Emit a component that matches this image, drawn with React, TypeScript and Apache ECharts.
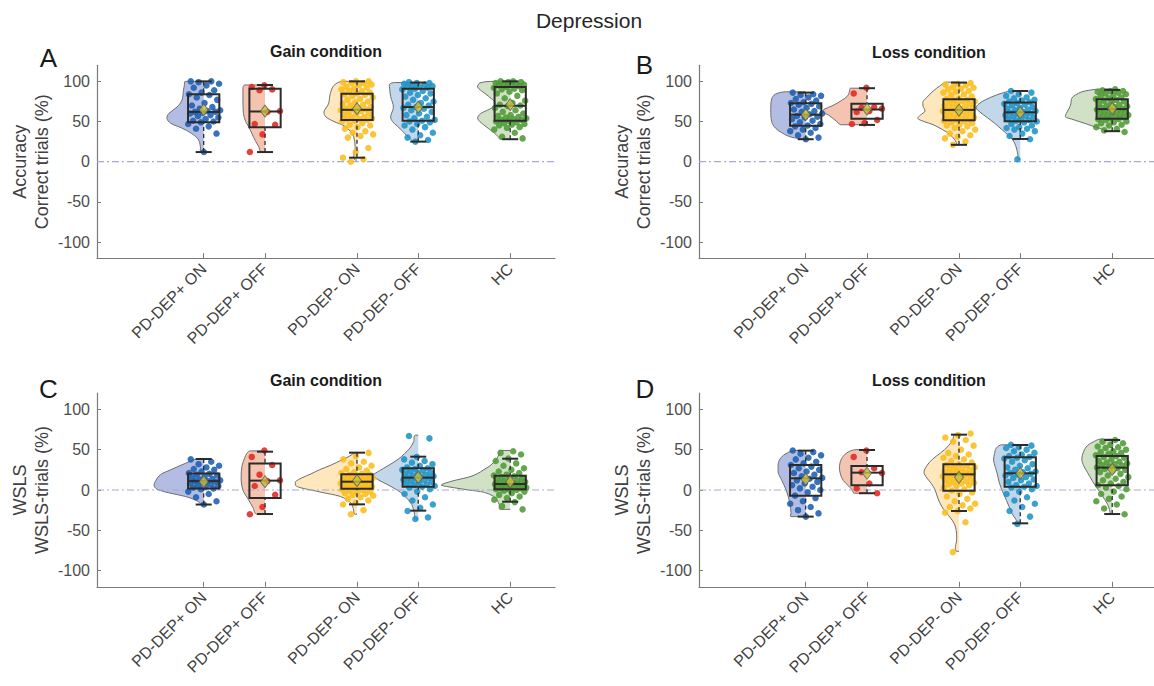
import React, { useEffect, useRef } from 'react';
import * as echarts from 'echarts';

const FONT = '"Liberation Sans", Arial, Helvetica, sans-serif';

const GROUPS = ['PD-DEP+ ON', 'PD-DEP+ OFF', 'PD-DEP- ON', 'PD-DEP- OFF', 'HC'];
const POSITIONS = [1, 1.667, 2.667, 3.333, 4.333];
const X_MIN = -0.16;
const X_MAX = 4.82;
const Y_MIN = -120;
const Y_MAX = 120;
const Y_TICKS = [-100, -50, 0, 50, 100];

const DOT_COLORS = ['#1d5fb0', '#e3261f', '#fbbd1c', '#1f93c6', '#4f9a36'];
const VIOLIN_COLORS = ['#b3bce2', '#f5c4b1', '#fee7bd', '#c2d7e9', '#d0e1c5'];

// ---------- Panel A: Accuracy, gain ----------
const A_DEPP_ON = [100, 100, 99, 97, 95, 92, 89, 86, 84, 83, 80, 77, 73, 70, 68, 66, 64, 63, 62, 62, 61, 60, 58, 57, 55, 53, 51, 50, 49, 47, 44, 41, 35, 12];
const A_DEPP_OFF = [95, 93, 90, 89, 63, 62, 47, 46, 34, 12];
const A_DEPM_ON = [100, 100, 99, 98, 98, 96, 95, 93, 92, 91, 90, 88, 88, 86, 85, 84, 83, 82, 80, 78, 77, 75, 74, 72, 71, 70, 68, 67, 66, 65, 65, 64, 63, 61, 60, 59, 58, 56, 55, 54, 53, 53, 52, 51, 50, 48, 46, 45, 43, 41, 38, 36, 34, 32, 30, 17, 12, 5, 3, 0];
const A_DEPM_OFF = [99, 98, 98, 97, 96, 95, 94, 93, 93, 92, 91, 90, 88, 86, 85, 83, 81, 79, 77, 75, 73, 71, 70, 68, 67, 66, 64, 62, 60, 58, 56, 54, 52, 51, 50, 49, 47, 45, 43, 40, 36, 33, 30, 27, 25];
const A_HC = [100, 100, 99, 99, 98, 97, 97, 96, 95, 95, 94, 93, 92, 91, 90, 89, 87, 85, 82, 79, 76, 73, 71, 70, 69, 67, 64, 62, 60, 58, 57, 56, 55, 54, 53, 52, 52, 51, 50, 49, 48, 47, 46, 45, 43, 42, 40, 36, 31, 29];
// [lower whisker, Q1, median, Q3, upper whisker, mean]
const A_BOX = [
  [12, 49, 62, 84, 100, 64.6],
  [12, 43, 62.5, 90.8, 95.5, 63],
  [5, 52, 64.6, 84.6, 100, 66],
  [25, 51, 68, 90.8, 98.5, 68],
  [28, 51, 69.6, 93, 100, 71],
];
// violin outline: [value, half-width in x units]
const A_VIOLIN = [
  [[100, 0.2], [95, 0.21], [89, 0.22], [77, 0.235], [68, 0.29], [60, 0.38], [54, 0.4], [48, 0.36], [42, 0.24], [35, 0.13], [27, 0.055], [19, 0.036], [12, 0.025]],
  [[95.5, 0.22], [92, 0.24], [77, 0.24], [60, 0.235], [50, 0.21], [44, 0.18], [37, 0.15], [31, 0.127], [25, 0.1], [19, 0.07], [12, 0.036]],
  [[100, 0.16], [95, 0.25], [85, 0.29], [72, 0.31], [62, 0.36], [56, 0.34], [50, 0.25], [44, 0.13], [37, 0.065], [31, 0.035], [19, 0.02], [2, 0.015]],
  [[98.5, 0.26], [96, 0.315], [90, 0.31], [81, 0.3], [68, 0.27], [56, 0.3], [50, 0.28], [44, 0.225], [38, 0.17], [33, 0.13], [29, 0.09], [25, 0.05]],
  [[100, 0.17], [98, 0.33], [93, 0.355], [85, 0.275], [78, 0.2], [73, 0.165], [67, 0.2], [60, 0.32], [54, 0.355], [46, 0.29], [37, 0.185], [31, 0.13], [28, 0.11]],
];

// ---------- Panel B: Accuracy, loss ----------
const B_DEPP_ON = [86, 84, 83, 82, 80, 78, 76, 74, 73, 72, 71, 69, 67, 65, 63, 62, 60, 59, 57, 56, 55, 53, 51, 49, 47, 45, 44, 42, 40, 38, 36, 33, 30, 28];
const B_DEPP_OFF = [92, 85, 68, 67, 66, 63, 62, 52, 48, 47];
const B_DEPM_ON = [98, 97, 96, 95, 93, 92, 91, 90, 88, 87, 86, 84, 83, 81, 79, 78, 77, 76, 75, 75, 73, 72, 71, 70, 69, 68, 67, 66, 65, 64, 64, 63, 62, 61, 60, 59, 58, 57, 56, 55, 54, 53, 52, 52, 51, 50, 49, 48, 46, 45, 44, 42, 40, 38, 35, 33, 31, 29, 25, 21];
const B_DEPM_OFF = [88, 86, 84, 82, 80, 79, 77, 76, 75, 74, 73, 72, 71, 70, 68, 67, 66, 65, 64, 63, 62, 61, 60, 59, 58, 57, 56, 55, 54, 53, 52, 51, 50, 49, 47, 45, 43, 42, 41, 40, 38, 35, 32, 28, 3];
const B_HC = [90, 89, 88, 88, 87, 86, 85, 84, 83, 82, 80, 79, 78, 77, 76, 75, 74, 72, 71, 70, 69, 68, 67, 66, 66, 65, 64, 63, 62, 61, 60, 59, 58, 58, 57, 56, 55, 54, 53, 53, 52, 50, 49, 48, 46, 45, 43, 41, 39, 37];
const B_BOX = [
  [28, 44.6, 58.5, 72.8, 86, 58.5],
  [45.8, 53.5, 65, 72, 91.5, 65.4],
  [21, 51.5, 64.5, 77.8, 98.5, 64.2],
  [28.3, 50.3, 61.5, 73.6, 88, 61],
  [38, 53.5, 65.5, 77.8, 89.4, 66.3],
];
const B_VIOLIN = [
  [[87, 0.22], [84, 0.33], [78, 0.37], [65, 0.38], [50, 0.37], [42, 0.33], [36, 0.26], [31, 0.17], [29, 0.08], [28, 0.02]],
  [[91.5, 0.18], [88, 0.19], [82, 0.21], [76, 0.28], [70, 0.37], [65, 0.47], [62, 0.48], [58, 0.42], [53, 0.36], [48, 0.31], [46, 0.29]],
  [[99, 0.14], [95, 0.2], [88, 0.28], [80, 0.35], [75, 0.39], [69, 0.39], [63, 0.37], [58, 0.42], [54, 0.45], [50, 0.38], [46, 0.28], [40, 0.18], [34, 0.1], [28, 0.05], [24, 0.03], [21, 0.02]],
  [[88, 0.1], [86, 0.18], [83, 0.26], [77, 0.38], [72, 0.45], [67, 0.48], [62, 0.44], [55, 0.36], [48, 0.28], [40, 0.2], [33, 0.13], [27, 0.08], [20, 0.05], [14, 0.035], [8, 0.025], [3, 0.02]],
  [[90.5, 0.12], [89, 0.25], [87, 0.33], [83, 0.4], [79, 0.44], [72, 0.45], [66, 0.47], [60, 0.5], [56, 0.51], [53, 0.44], [50, 0.36], [47, 0.28], [43, 0.18], [40, 0.1], [37.5, 0.03]],
];

// ---------- Panel C: WSLS, gain ----------
const C_DEPP_ON = [38, 35, 32, 30, 28, 26, 25, 23, 21, 20, 19, 18, 16, 15, 14, 13, 12, 11, 11, 10, 9, 8, 7, 6, 5, 4, 3, 2, 1, -2, -5, -9, -14, -18];
const C_DEPP_OFF = [49, 41, 31, 19, 12, 11, 5, -6, -21, -30];
const C_DEPM_ON = [46, 42, 38, 35, 33, 30, 28, 26, 24, 22, 21, 20, 19, 19, 18, 17, 16, 16, 15, 14, 14, 13, 13, 12, 12, 11, 11, 10, 10, 9, 9, 8, 8, 7, 7, 6, 5, 5, 4, 4, 3, 3, 2, 2, 1, 0, -1, -2, -3, -4, -5, -6, -7, -9, -11, -13, -16, -18, -25, -30];
const C_DEPM_OFF = [67, 64, 41, 38, 36, 34, 32, 30, 28, 27, 26, 25, 24, 23, 22, 21, 20, 19, 18, 17, 16, 15, 15, 14, 13, 12, 11, 10, 9, 8, 7, 6, 5, 4, 3, 1, -2, -5, -9, -13, -18, -22, -26, -34, -36];
const C_HC = [48, 46, 44, 39, 36, 33, 30, 27, 25, 23, 21, 19, 18, 17, 16, 15, 14, 13, 12, 11, 10, 9, 9, 8, 8, 7, 7, 6, 6, 5, 5, 4, 4, 3, 3, 2, 2, 1, 1, 0, -1, -2, -4, -6, -8, -10, -12, -15, -20, -24];
const C_BOX = [
  [-18, 2, 11, 20.5, 38.4, 10.3],
  [-29.8, -9.9, 11.6, 33, 47.5, 10.3],
  [-17.8, 1.7, 10.3, 19.4, 46.3, 11.6],
  [-25.6, 4.1, 15.3, 26.9, 41.3, 15.7],
  [-14.5, 0.8, 7.4, 17.8, 38.8, 10.3],
];
const C_VIOLIN = [
  [[38.4, 0.07], [33, 0.2], [25, 0.36], [19, 0.47], [12, 0.52], [6, 0.54], [2, 0.52], [0, 0.49], [-4, 0.36], [-8, 0.2], [-12, 0.1], [-15, 0.05], [-18, 0.02]],
  [[48.5, 0.16], [45, 0.2], [40, 0.22], [30, 0.25], [15, 0.26], [0, 0.24], [-12, 0.18], [-22, 0.13], [-30, 0.09]],
  [[46, 0.02], [42, 0.08], [37, 0.17], [31, 0.28], [25, 0.41], [20, 0.5], [15, 0.6], [10, 0.67], [6, 0.67], [3, 0.62], [0, 0.5], [-3, 0.38], [-8, 0.18], [-13, 0.1], [-17, 0.06], [-23, 0.04], [-30, 0.02]],
  [[68, 0.03], [60, 0.05], [52, 0.09], [45, 0.15], [38, 0.22], [30, 0.33], [24, 0.42], [18, 0.49], [13, 0.44], [7, 0.34], [0, 0.23], [-6, 0.16], [-12, 0.11], [-18, 0.07], [-25, 0.05], [-30, 0.04], [-36, 0.03]],
  [[49, 0.11], [45, 0.12], [38, 0.15], [30, 0.22], [25, 0.29], [20, 0.36], [16, 0.45], [12, 0.6], [8, 0.72], [6, 0.75], [3, 0.62], [0, 0.45], [-3, 0.28], [-8, 0.18], [-13, 0.14], [-18, 0.12], [-24, 0.11]],
];

// ---------- Panel D: WSLS, loss ----------
const D_DEPP_ON = [49, 47, 45, 43, 40, 38, 35, 33, 31, 29, 27, 25, 23, 21, 19, 17, 15, 14, 12, 10, 8, 6, 4, 2, 0, -3, -7, -10, -14, -17, -21, -25, -29, -33];
const D_DEPP_OFF = [49, 41, 27, 22, 21, 8, 2, -4];
const D_DEPM_ON = [70, 68, 65, 62, 60, 55, 50, 46, 44, 42, 40, 38, 36, 34, 32, 31, 30, 29, 28, 27, 26, 25, 24, 23, 22, 21, 20, 20, 19, 19, 18, 17, 16, 15, 14, 13, 12, 11, 10, 9, 8, 7, 6, 5, 3, 1, -1, -3, -5, -8, -11, -14, -17, -19, -21, -23, -26, -28, -40, -77];
const D_DEPM_OFF = [56, 55, 53, 52, 50, 48, 46, 44, 42, 41, 40, 39, 37, 35, 32, 30, 28, 27, 25, 23, 22, 21, 20, 19, 18, 16, 15, 13, 12, 10, 8, 6, 5, 4, 3, 1, -2, -5, -9, -13, -17, -21, -26, -33, -42];
const D_HC = [62, 60, 58, 56, 54, 53, 52, 50, 48, 47, 46, 45, 43, 42, 41, 40, 38, 36, 35, 34, 33, 32, 31, 30, 29, 28, 27, 26, 25, 24, 22, 20, 18, 16, 14, 12, 10, 8, 6, 5, 3, 1, -2, -5, -8, -11, -14, -18, -23, -30];
const D_BOX = [
  [-33, -7, 14.5, 31, 48.8, 13.2],
  [-4, 5.8, 21.5, 29.8, 49.6, 20.7],
  [-26, -0.8, 19.4, 31.8, 68.6, 15.7],
  [-41.3, 4.1, 20.7, 40.5, 55.8, 20.7],
  [-29.8, 5.8, 27.7, 42.1, 62, 25.6],
];
const D_VIOLIN = [
  [[49, 0.12], [46, 0.2], [40, 0.27], [32, 0.3], [22, 0.3], [12, 0.26], [2, 0.22], [-8, 0.19], [-18, 0.17], [-28, 0.16], [-33, 0.16]],
  [[50, 0.12], [46, 0.22], [38, 0.28], [28, 0.3], [20, 0.29], [12, 0.26], [5, 0.2], [0, 0.16], [-4, 0.14]],
  [[69, 0.04], [62, 0.07], [54, 0.12], [46, 0.2], [38, 0.29], [30, 0.35], [22, 0.38], [15, 0.35], [8, 0.3], [0, 0.26], [-10, 0.23], [-20, 0.19], [-28, 0.14], [-35, 0.09], [-42, 0.05], [-50, 0.03], [-60, 0.025], [-76, 0.02]],
  [[56, 0.2], [52, 0.26], [45, 0.28], [37, 0.29], [28, 0.27], [20, 0.25], [10, 0.23], [3, 0.21], [-5, 0.18], [-13, 0.15], [-21, 0.12], [-29, 0.09], [-36, 0.05], [-41, 0.02]],
  [[63, 0.13], [60, 0.2], [55, 0.27], [48, 0.31], [38, 0.33], [30, 0.31], [22, 0.27], [12, 0.22], [3, 0.17], [-5, 0.12], [-12, 0.08], [-18, 0.05], [-24, 0.03], [-30, 0.01]],
];

const PANELS = [
  { letter: 'A', title: 'Gain condition', yName: 'Accuracy\nCorrect trials (%)', grid: { left: 97, top: 65.3, width: 458, height: 192.8 }, letterPos: [48.5, 57.5], titlePos: [326, 51.5], points: [A_DEPP_ON, A_DEPP_OFF, A_DEPM_ON, A_DEPM_OFF, A_HC], box: A_BOX, violin: A_VIOLIN },
  { letter: 'B', title: 'Loss condition', yName: 'Accuracy\nCorrect trials (%)', grid: { left: 699, top: 65.3, width: 458, height: 192.8 }, letterPos: [644.5, 64.5], titlePos: [929, 52], points: [B_DEPP_ON, B_DEPP_OFF, B_DEPM_ON, B_DEPM_OFF, B_HC], box: B_BOX, violin: B_VIOLIN },
  { letter: 'C', title: 'Gain condition', yName: 'WSLS\nWSLS-trials (%)', grid: { left: 97, top: 393.2, width: 458, height: 193.6 }, letterPos: [48.5, 388.5], titlePos: [326, 380.7], points: [C_DEPP_ON, C_DEPP_OFF, C_DEPM_ON, C_DEPM_OFF, C_HC], box: C_BOX, violin: C_VIOLIN },
  { letter: 'D', title: 'Loss condition', yName: 'WSLS\nWSLS-trials (%)', grid: { left: 699, top: 393.2, width: 458, height: 193.6 }, letterPos: [645, 389], titlePos: [929, 380.7], points: [D_DEPP_ON, D_DEPP_OFF, D_DEPM_ON, D_DEPM_OFF, D_HC], box: D_BOX, violin: D_VIOLIN },
];

const jitter = (j: number, g: number) => ((((j * 0.618034) + g * 0.37 + 0.11) % 1) - 0.5) * 0.36;

const nearestGroup = (val: number) => {
  let best = 0;
  POSITIONS.forEach((p, i) => {
    if (Math.abs(p - val) < Math.abs(POSITIONS[best] - val)) best = i;
  });
  return GROUPS[best];
};

function buildSeries(k: number, panel: any) {
  const series: any[] = [];
  const box = panel.box;
  const violin = panel.violin;
  series.push({
    type: 'custom',
    xAxisIndex: k,
    yAxisIndex: k,
    z: 1,
    silent: true,
    data: POSITIONS.map((p, i) => [p, box[i][2]]),
    encode: { x: 0, y: 1 },
    renderItem: (params: any, api: any) => {
      const i = params.dataIndex;
      const pos = POSITIONS[i];
      const outline = violin[i];
      const top = outline[0][0];
      const bot = outline[outline.length - 1][0];
      const pts: number[][] = [api.coord([pos + 1.2, top])];
      outline.forEach((o: number[]) => pts.push(api.coord([pos - o[1], o[0]])));
      pts.push(api.coord([pos + 1.2, bot]));
      const c = api.coord([pos, 0]);
      return {
        type: 'polygon',
        shape: { points: pts, smooth: 0.35, smoothConstraint: [pts[0], pts[0]] },
        style: { fill: VIOLIN_COLORS[i], stroke: '#6e6e6e', lineWidth: 1 },
        clipPath: { type: 'rect', shape: { x: c[0] - 300, y: 0, width: 300, height: 1000 } },
      };
    },
  });
  series.push({
    type: 'line',
    xAxisIndex: k,
    yAxisIndex: k,
    z: 2,
    silent: true,
    symbol: 'none',
    data: [[X_MIN, 0], [X_MAX, 0]],
    lineStyle: { color: '#a3a9d8', width: 1.2, type: [7, 3, 2, 3] },
  });
  panel.points.forEach((vals: number[], i: number) => {
    series.push({
      type: 'scatter',
      xAxisIndex: k,
      yAxisIndex: k,
      z: 3,
      silent: true,
      symbolSize: 6.5,
      data: vals.map((v, j) => [POSITIONS[i] + jitter(j, i), v]),
      itemStyle: { color: DOT_COLORS[i], opacity: 0.88 },
    });
  });
  series.push({
    type: 'custom',
    xAxisIndex: k,
    yAxisIndex: k,
    z: 4,
    silent: true,
    data: POSITIONS.map((p, i) => [p, box[i][2]]),
    encode: { x: 0, y: 1 },
    renderItem: (params: any, api: any) => {
      const i = params.dataIndex;
      const pos = POSITIONS[i];
      const [lo, q1, med, q3, hi] = box[i];
      const hw = 0.17;
      const cw = 0.087;
      const tl = api.coord([pos - hw, q3]);
      const br = api.coord([pos + hw, q1]);
      const mL = api.coord([pos - hw, med]);
      const mR = api.coord([pos + hw, med]);
      const hiP = api.coord([pos, hi]);
      const loP = api.coord([pos, lo]);
      const q3P = api.coord([pos, q3]);
      const q1P = api.coord([pos, q1]);
      const capHL = api.coord([pos - cw, hi]);
      const capHR = api.coord([pos + cw, hi]);
      const capLL = api.coord([pos - cw, lo]);
      const capLR = api.coord([pos + cw, lo]);
      const solid = { stroke: '#2b2b2b', lineWidth: 2 };
      const dashed = { stroke: '#2b2b2b', lineWidth: 1.3, lineDash: [4, 3] };
      return {
        type: 'group',
        children: [
          { type: 'line', shape: { x1: hiP[0], y1: hiP[1], x2: q3P[0], y2: q3P[1] }, style: dashed },
          { type: 'line', shape: { x1: loP[0], y1: loP[1], x2: q1P[0], y2: q1P[1] }, style: dashed },
          { type: 'rect', shape: { x: tl[0], y: tl[1], width: br[0] - tl[0], height: br[1] - tl[1] }, style: { fill: 'rgba(0,0,0,0)', stroke: '#2b2b2b', lineWidth: 2 } },
          { type: 'line', shape: { x1: mL[0], y1: mL[1], x2: mR[0], y2: mR[1] }, style: solid },
          { type: 'line', shape: { x1: capHL[0], y1: capHL[1], x2: capHR[0], y2: capHR[1] }, style: solid },
          { type: 'line', shape: { x1: capLL[0], y1: capLL[1], x2: capLR[0], y2: capLR[1] }, style: solid },
        ],
      };
    },
  });
  series.push({
    type: 'scatter',
    xAxisIndex: k,
    yAxisIndex: k,
    z: 5,
    silent: true,
    symbol: 'diamond',
    symbolSize: [9, 12],
    data: POSITIONS.map((p, i) => [p, box[i][5]]),
    itemStyle: { color: '#c9c13a', borderColor: '#5a5a5a', borderWidth: 1 },
  });
  return series;
}

export default function App() {
  const ref = useRef<HTMLDivElement>(null);
  useEffect(() => {
    if (!ref.current) return;
    const chart = echarts.init(ref.current, null, { renderer: 'svg' });
    const grids = PANELS.map((p) => ({ ...p.grid, containLabel: false, outerBoundsMode: 'none' }));
    const xAxes = PANELS.map((_, k) => ({
      type: 'value',
      gridIndex: k,
      min: X_MIN,
      max: X_MAX,
      splitLine: { show: false },
      axisLine: { show: true, onZero: false, lineStyle: { color: '#7a7a7a', width: 1.2 } },
      axisTick: { show: true, inside: true, length: 5, customValues: POSITIONS, lineStyle: { color: '#7a7a7a', width: 1 } },
      axisLabel: { customValues: POSITIONS, rotate: 45, formatter: (v: number) => nearestGroup(v), fontSize: 16, color: '#404040', margin: 8, fontFamily: FONT },
    }));
    const yAxes = PANELS.map((p, k) => ({
      type: 'value',
      gridIndex: k,
      min: Y_MIN,
      max: Y_MAX,
      splitLine: { show: false },
      axisLine: { show: true, onZero: false, lineStyle: { color: '#7a7a7a', width: 1.2 } },
      axisTick: { show: true, inside: true, length: 4, customValues: Y_TICKS, lineStyle: { color: '#7a7a7a', width: 1 } },
      axisLabel: { customValues: Y_TICKS, fontSize: 16, color: '#4d4d4d', margin: 7, fontFamily: FONT },
      name: p.yName,
      nameLocation: 'middle',
      nameRotate: 90,
      nameGap: 44,
      nameMoveOverlap: false,
      nameTextStyle: { fontSize: 18, color: '#404040', lineHeight: 22, fontFamily: FONT },
    }));
    const series: any[] = [];
    PANELS.forEach((p, k) => series.push(...buildSeries(k, p)));
    const graphic: any[] = [
      { type: 'text', x: 589, y: 20, style: { text: 'Depression', fontSize: 21, fill: '#262626', align: 'center', verticalAlign: 'middle', fontFamily: FONT } },
    ];
    PANELS.forEach((p) => {
      graphic.push({ type: 'text', x: p.titlePos[0], y: p.titlePos[1], style: { text: p.title, fontSize: 16, fontWeight: 'bold', fill: '#1a1a1a', align: 'center', verticalAlign: 'middle', fontFamily: FONT } });
      graphic.push({ type: 'text', x: p.letterPos[0], y: p.letterPos[1], style: { text: p.letter, fontSize: 26, fill: '#1a1a1a', align: 'center', verticalAlign: 'middle', fontFamily: FONT } });
    });
    chart.setOption({
      animation: false,
      backgroundColor: '#ffffff',
      textStyle: { fontFamily: FONT },
      grid: grids,
      xAxis: xAxes,
      yAxis: yAxes,
      series,
      graphic,
    });
    return () => chart.dispose();
  }, []);
  return <div ref={ref} style={{ position: 'absolute', left: 0, top: 0, width: 1154, height: 686 }} />;
}
